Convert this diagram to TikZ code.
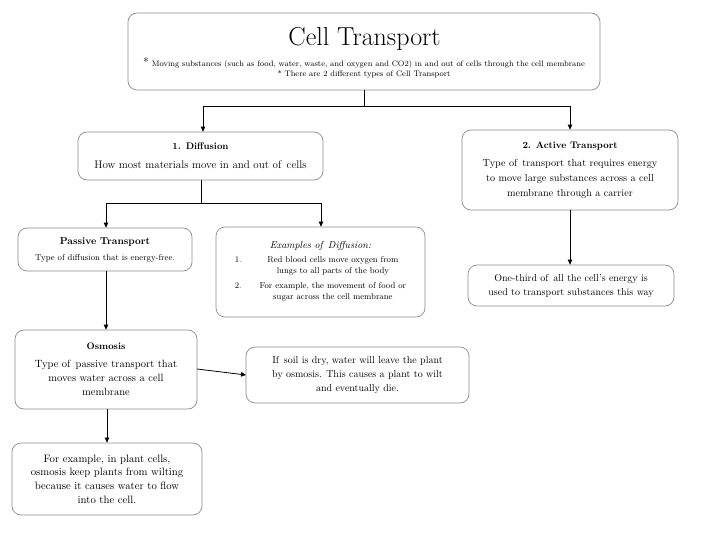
\documentclass[tikz,border=0pt]{standalone}
\usetikzlibrary{arrows.meta}
\begin{document}
\begin{tikzpicture}[x=1pt,y=-1pt,
  box/.style={draw=black!45, line width=0.7pt, rounded corners=9pt, fill=white, align=center, inner sep=0pt},
  conn/.style={line width=0.8pt, black},
  arr/.style={conn, -{Triangle[length=5pt,width=4.5pt]}}
]
\useasboundingbox (0,0) rectangle (720,540);
% boxes
\node[box, minimum width=472pt, minimum height=77pt] (title) at (364,51.5) {};
\node[font=\fontsize{26}{30}\selectfont] (titletext) at (364.5,38.5) {Cell Transport};
\node[align=center, font=\fontsize{8}{10.5}\selectfont] (titlesub) at (364,68) {{\large *} Moving substances (such as food, water, waste, and oxygen and CO2) in and out of cells through the cell membrane\\ * There are 2 different types of Cell Transport};

\node[box, minimum width=245pt, minimum height=48pt, font=\fontsize{11}{13}\selectfont] (diff) at (200.5,156)
  {{\fontsize{9.5}{12}\selectfont\bfseries 1. Diffusion}\\[6pt] How most materials move in and out of\, cells};
\node[box, minimum width=216pt, minimum height=80pt, font=\fontsize{10.2}{15}\selectfont] (active) at (570,170)
  {{\fontsize{9.5}{12}\selectfont\bfseries 2. Active Transport}\\[3pt] Type of\, transport that requires energy\\ to move large substances across a cell\\ membrane through a carrier};
\node[box, minimum width=174pt, minimum height=43pt, font=\fontsize{8.5}{11}\selectfont] (passive) at (105,249.5)
  {{\fontsize{10}{12}\selectfont\bfseries Passive Transport}\\[5pt] Type of diffusion that is energy-free.};
\node[box, minimum width=209pt, minimum height=90pt, font=\fontsize{8.5}{10.5}\selectfont] (examples) at (320.5,272)
  {{\fontsize{10}{12}\selectfont\itshape Examples of\, Diffusion:}\\[4pt]
   \begin{tabular}{@{}l@{\hspace{18pt}}c@{}}
   1. & Red blood cells move oxygen from\\
      & lungs to all parts of the body\\[5pt]
   2. & For example, the movement of food or\\
      & sugar across the cell membrane
   \end{tabular}};
\node[box, minimum width=206pt, minimum height=41pt, font=\fontsize{10}{14}\selectfont] (onethird) at (571,285.5)
  {One-third of\, all the cell's energy is\\ used to transport substances this way};
\node[box, minimum width=182pt, minimum height=79pt, font=\fontsize{10.5}{14}\selectfont] (osmosis) at (106,369.5)
  {{\fontsize{9.5}{12}\selectfont\bfseries Osmosis}\\[4pt] Type of\, passive transport that\\ moves water across a cell\\ membrane};
\node[box, minimum width=223pt, minimum height=56pt, font=\fontsize{10}{14}\selectfont] (soil) at (357.5,375)
  {If\, soil is dry, water will leave the plant\\ by osmosis. This causes a plant to wilt\\ and eventually die.};
\node[box, minimum width=190pt, minimum height=72pt, font=\fontsize{10.7}{13.7}\selectfont] (forex) at (107,479)
  {For example, in plant cells,\\ osmosis keep plants from wilting\\ because it causes water to flow\\ into the cell.};

% connectors
\coordinate (j1) at (364,106);
\coordinate (j1l) at (203,106);
\coordinate (j1r) at (570,106);
\draw[conn] (title.south -| j1) -- (j1) (j1l) -- (j1r);
\draw[arr] (j1l) -- (j1l |- diff.north);
\draw[arr] (j1r) -- (j1r |- active.north);

\coordinate (j2) at (201,203);
\coordinate (j2l) at (106,203);
\coordinate (j2r) at (321,203);
\draw[conn] (diff.south -| j2) -- (j2) (j2l) -- (j2r);
\draw[arr] (j2l) -- (j2l |- passive.north);
\draw[arr] (j2r) -- (j2r |- examples.north);

\draw[arr] (active.south) -- (onethird.north -| active.south);
\coordinate (p1) at (106,271);
\draw[arr] (passive.south -| p1) -- (osmosis.north -| p1);
\coordinate (s1) at (197,369);
\coordinate (s2) at (246,375);
\draw[arr] (s1) -- (s2);
\coordinate (o1) at (107,409);
\draw[arr] (osmosis.south -| o1) -- (forex.north -| o1);
\end{tikzpicture}
\end{document}
